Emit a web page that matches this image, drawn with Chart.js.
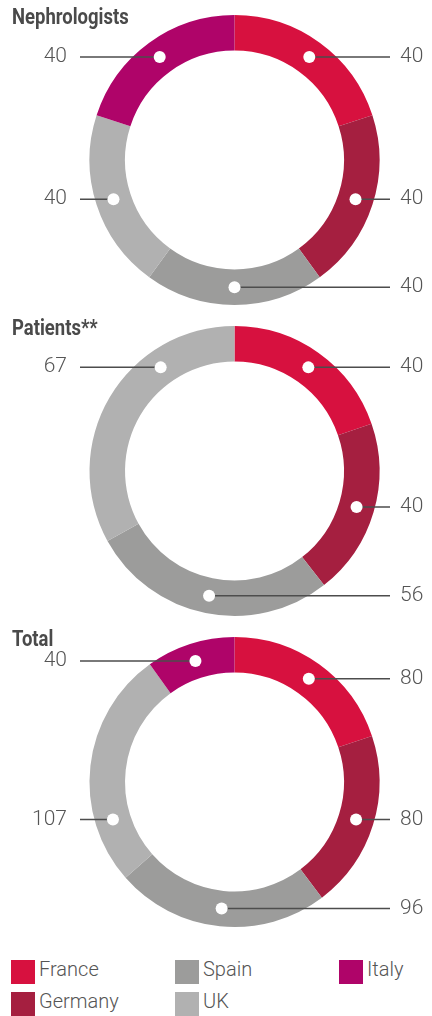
<!DOCTYPE html>
<html lang="en">
<head>
    <meta charset="UTF-8">
    <title>Nephrologists and patients by country</title>
    <script src="https://cdn.jsdelivr.net/npm/chart.js"></script>
    <style>
        body {
            margin: 0;
            background: #fff;
            width: 432px;
            height: 1016px;
            position: relative;
            overflow: hidden;
            font-family: Roboto, Arial, sans-serif;
        }

        .panel {
            position: absolute;
            left: 0;
        }

        #legend {
            position: absolute;
            left: 0;
            top: 960px;
            width: 432px;
        }

        .item {
            position: absolute;
            height: 24px;
            font-weight: 300;
            font-size: 20px;
            line-height: 18px;
            color: #555;
            white-space: nowrap;
        }

        .item span.box {
            display: inline-block;
            width: 24px;
            height: 24px;
            vertical-align: top;
            margin-right: 4px;
        }
    </style>
</head>
<body>
<canvas id="c1" class="panel" width="432" height="311" style="top:0"></canvas>
<canvas id="c2" class="panel" width="432" height="311" style="top:311px"></canvas>
<canvas id="c3" class="panel" width="432" height="311" style="top:622px"></canvas>
<div id="legend"></div>

<script>
    // data
    const categories = ['France', 'Germany', 'Spain', 'UK', 'Italy'];
    const nephrologists = [40, 40, 40, 40, 40];
    const patients = [40, 40, 56, 67, 0];
    const total = [80, 80, 96, 107, 40];
    const titles = ['Nephrologists', 'Patients**', 'Total'];

    const colors = ['#d7113f', '#a51f40', '#9c9c9b', '#b1b1b1', '#af0469'];

    const numFont = '300 21px Roboto, Arial, sans-serif';
    const titleFont = 'bold 22px Roboto, Arial, sans-serif';

    // draws the title and the leader lines with values
    const calloutPlugin = {
        id: 'callouts',
        afterDraw(chart, args, opts) {
            const ctx = chart.ctx;
            const meta = chart.getDatasetMeta(0);
            const values = chart.data.datasets[0].data;

            // condensed look for the heading
            ctx.save();
            ctx.font = titleFont;
            ctx.fillStyle = '#4a4a4a';
            ctx.textAlign = 'left';
            ctx.textBaseline = 'alphabetic';
            ctx.translate(12, 24);
            ctx.scale(0.84, 1);
            ctx.fillText(opts.title, 0, 0);
            ctx.restore();

            ctx.save();
            const labels = [];
            meta.data.forEach((arc, i) => {
                if (!values[i]) return;
                const p = arc.getProps(['x', 'y', 'startAngle', 'endAngle', 'innerRadius', 'outerRadius'], true);
                const mid = (p.startAngle + p.endAngle) / 2;
                const r = (p.innerRadius + p.outerRadius) / 2;
                const fromTop = mid + Math.PI / 2;
                labels.push({
                    i: i, cx: p.x, cy: p.y, r: r,
                    start: p.startAngle, end: p.endAngle,
                    x: p.x + r * Math.cos(mid),
                    y: p.y + r * Math.sin(mid),
                    right: fromTop < 200 * Math.PI / 180
                });
            });

            // left callouts line up with a nearby right one when it still sits on the slice
            const rights = labels.filter(l => l.right);
            labels.filter(l => !l.right).forEach(l => {
                let best = null;
                rights.forEach(rl => {
                    if (Math.abs(rl.y - l.y) < 60 && (!best || Math.abs(rl.y - l.y) < Math.abs(best.y - l.y))) best = rl;
                });
                if (!best) return;
                const dy = best.y - l.cy;
                if (Math.abs(dy) >= l.r) return;
                const nx = l.cx - Math.sqrt(l.r * l.r - dy * dy);
                let ang = Math.atan2(dy, nx - l.cx);
                while (ang < l.start) ang += Math.PI * 2;
                const margin = 5 * Math.PI / 180;
                if (ang > l.start + margin && ang < l.end - margin) {
                    l.x = nx;
                    l.y = best.y;
                }
            });

            labels.forEach(l => {
                ctx.strokeStyle = '#4d4d4d';
                ctx.lineWidth = 1.5;
                ctx.beginPath();
                if (l.right) {
                    ctx.moveTo(l.x, l.y);
                    ctx.lineTo(390, l.y);
                } else {
                    ctx.moveTo(80, l.y);
                    ctx.lineTo(l.x, l.y);
                }
                ctx.stroke();

                ctx.fillStyle = '#fff';
                ctx.beginPath();
                ctx.arc(l.x, l.y, 6, 0, Math.PI * 2);
                ctx.fill();

                ctx.font = numFont;
                ctx.fillStyle = '#555';
                ctx.textAlign = l.right ? 'left' : 'right';
                ctx.fillText(String(values[l.i]), l.right ? 400 : 67, l.y + 5);
            });
            ctx.restore();
        }
    };

    function makeDoughnut(id, values, title) {
        new Chart(document.getElementById(id), {
            type: 'doughnut',
            data: {
                labels: categories,
                datasets: [{
                    data: values,
                    backgroundColor: colors,
                    borderWidth: 0
                }]
            },
            options: {
                responsive: false,
                animation: false,
                cutout: '75.5%',
                layout: {
                    padding: {left: 89.5, right: 52.5, top: 15, bottom: 6}
                },
                plugins: {
                    legend: {display: false},
                    tooltip: {enabled: false},
                    callouts: {title: title}
                }
            },
            plugins: [calloutPlugin]
        });
    }

    document.fonts.load(numFont).then(() => document.fonts.load(titleFont)).finally(() => {
        makeDoughnut('c1', nephrologists, titles[0]);
        makeDoughnut('c2', patients, titles[1]);
        makeDoughnut('c3', total, titles[2]);
    });

    // legend, filled column by column in two rows
    const legend = document.getElementById('legend');
    categories.forEach((name, i) => {
        const item = document.createElement('div');
        item.className = 'item';
        item.style.left = (11 + Math.floor(i / 2) * 164) + 'px';
        item.style.top = ((i % 2) * 32) + 'px';
        const box = document.createElement('span');
        box.className = 'box';
        box.style.background = colors[i];
        item.appendChild(box);
        item.appendChild(document.createTextNode(name));
        legend.appendChild(item);
    });
</script>
</body>
</html>
